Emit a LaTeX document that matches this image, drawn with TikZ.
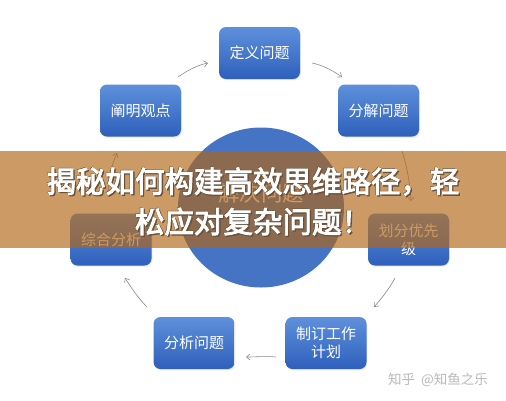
\documentclass[tikz,border=0pt]{standalone}
\usepackage{fontspec}
\newfontfamily\cjk{Noto Sans CJK SC}
\newfontfamily\cjkb{Noto Sans CJK SC}[FakeBold=3.2]
\usetikzlibrary{arrows.meta,shadows,shapes.geometric}
\definecolor{boxtop}{RGB}{94,144,220}
\definecolor{boxbot}{RGB}{46,96,188}
\definecolor{circ}{RGB}{70,116,196}
\definecolor{band}{RGB}{178,101,17}
\definecolor{arr}{RGB}{135,138,150}
\definecolor{wm}{RGB}{185,185,185}
\definecolor{tshadow}{RGB}{105,80,58}
\newcommand\shadowed[1]{\leavevmode\rlap{\kern1.3pt\raisebox{-1.3pt}{\color{tshadow}#1}}\rlap{\kern-0.5pt\raisebox{0.5pt}{\color{tshadow}#1}}{\color{white}#1}}
\begin{document}
\begin{tikzpicture}[x=1pt,y=-1pt,
  stepbox/.style={rectangle, rounded corners=7pt, minimum width=81pt, minimum height=52pt,
    top color=boxtop, bottom color=boxbot, draw=none, text=white,
    font=\cjk\fontsize{15}{18}\selectfont, align=center, inner sep=2pt,
    drop shadow={opacity=0.18, shadow xshift=0.8pt, shadow yshift=-1.2pt}},
  flow/.style={draw=arr, line width=0.6pt, -{Straight Barb[length=3.5pt,width=6pt]}},
  titletext/.style={font=\cjkb\fontsize{29.5}{32}\selectfont, inner sep=0pt}
]
\useasboundingbox (0,0) rectangle (506,400);
\fill[white] (0,0) rectangle (506,400);

% central circle
\node[ellipse, fill=circ, draw=none, minimum width=166pt, minimum height=160pt, inner sep=0pt] (solve) at (261,207.5) {};
\node[text=white, font=\cjk\fontsize{21.5}{24}\selectfont, inner sep=0pt] (solvetext) at (261,193) {解决问题};

% boxes
\node[stepbox] (define)   at (259.5,53)   {定义问题};
\node[stepbox] (explain)  at (140.5,110.5) {阐明观点};
\node[stepbox] (decomp)   at (378.5,110.5) {分解问题};
\node[stepbox] (synth)    at (111,239.5)  {综合分析};
\node[stepbox] (prior)    at (408.5,239.5) {划分优先\\级};
\node[stepbox] (analyse)  at (194,343)    {分析问题};
\node[stepbox] (plan)     at (326,343)    {制订工作\\计划};

% connector end points
\coordinate (a1s) at (178,77);  \coordinate (a1e) at (208,63);
\coordinate (a2s) at (312,63);  \coordinate (a2e) at (342,77);
\coordinate (a3s) at (402,151); \coordinate (a3e) at (411,201);
\coordinate (a4s) at (395,278); \coordinate (a4e) at (374,307);
\coordinate (a5s) at (276,357); \coordinate (a5e) at (246,357);
\coordinate (a6s) at (147,307); \coordinate (a6e) at (125,278);
\coordinate (a7s) at (108,197); \coordinate (a7e) at (117,153);

\draw[flow] (a1s) .. controls (188,70) and (198,65) .. (a1e);
\draw[flow] (a2s) .. controls (322,65) and (332,70) .. (a2e);
\draw[flow] (a3s) .. controls (407,166) and (410,184) .. (a3e);
\draw[flow] (a4s) .. controls (389,289) and (382,298) .. (a4e);
\draw[flow] (a5s) .. controls (266,356) and (256,357) .. (a5e);
\draw[flow] (a6s) .. controls (139,299) and (132,289) .. (a6e);
\draw[flow] (a7s) .. controls (108,182) and (111,166) .. (a7e);

% watermark
\node[text=wm, font=\cjk\fontsize{13.5}{16}\selectfont, inner sep=0pt] (wmark) at (438,380) {知乎\ \ @知鱼之乐};

% banner
\node[fill=band, fill opacity=0.65, draw=none, minimum width=506pt, minimum height=97pt, inner sep=0pt] (banner) at (253,199.5) {};

% banner title with shadow
\node[titletext] (t1) at (253,182) {\shadowed{揭秘如何构建高效思维路径，轻}};
\node[titletext] (t2) at (253,222) {\shadowed{松应对复杂问题！}};
\end{tikzpicture}
\end{document}
